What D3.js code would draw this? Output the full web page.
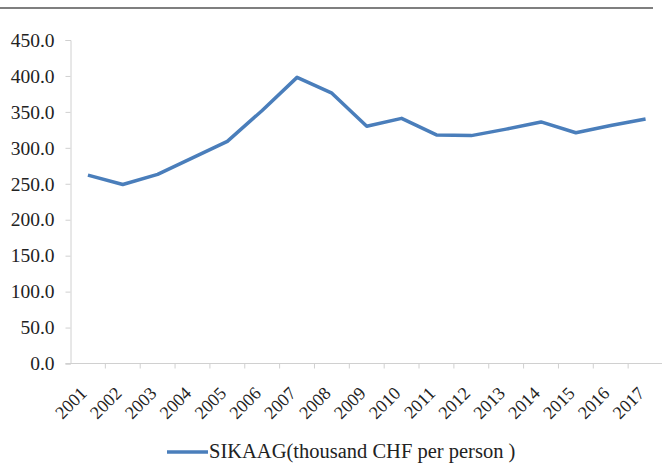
<!DOCTYPE html>
<html>
<head>
<meta charset="utf-8">
<script src="https://cdn.jsdelivr.net/npm/d3@7"></script>
<style>
  body { margin: 0; background: #fff; }
  svg { display: block; }
  svg text { font-family: "Liberation Serif", "Times New Roman", "DejaVu Serif", serif; fill: #222; }
</style>
</head>
<body>
<div id="chart"></div>
<script>
// data
const years = ['2001','2002','2003','2004','2005','2006','2007','2008','2009',
               '2010','2011','2012','2013','2014','2015','2016','2017']
const sikaag = [262, 249, 263, 286, 309, 352, 398, 376, 330,
                341, 318, 317, 326, 336, 321, 331, 340]
const yTicks = [0, 50, 100, 150, 200, 250, 300, 350, 400, 450]
const seriesName = 'SIKAAG(thousand CHF per person )'

const svg_width = 662
const svg_height = 465
const plot_left = 70.5
const plot_right = 663
const plot_top = 40
const plot_bottom = 363.5

const svg = d3.select('#chart')
    .append('svg')
    .attr('width', svg_width)
    .attr('height', svg_height)

// grey rule along the top
svg.append('line')
    .attr('x1', 0).attr('x2', 653)
    .attr('y1', 8).attr('y2', 8)
    .attr('stroke', '#7f7f7f')
    .attr('stroke-width', 2)

const x = d3.scaleBand()
    .domain(years)
    .range([plot_left, plot_right])

const y = d3.scaleLinear()
    .domain([0, 450])
    .range([plot_bottom, plot_top])

// y axis
const yAxis = svg.append('g')
    .attr('transform', `translate(${plot_left},0)`)
    .call(d3.axisLeft(y).tickValues(yTicks).tickFormat(d3.format('.1f')).tickSizeOuter(0).tickSize(5).tickPadding(11))
yAxis.attr('font-family', null)
yAxis.select('.domain').attr('stroke', '#d0d0d0')
yAxis.selectAll('.tick line').attr('stroke', '#d0d0d0')
yAxis.selectAll('.tick text')
    .attr('fill', null)
    .style('font-size', '19.5px')

// x axis, ticks sit between the categories
const xAxis = svg.append('g')
    .attr('transform', `translate(0,${plot_bottom})`)
xAxis.append('line')
    .attr('x1', plot_left - 5).attr('x2', plot_right)
    .attr('stroke', '#d0d0d0')
xAxis.selectAll('line.tk')
    .data(years)
    .join('line')
    .attr('class', 'tk')
    .attr('x1', d => x(d) + x.bandwidth())
    .attr('x2', d => x(d) + x.bandwidth())
    .attr('y1', 0).attr('y2', 5)
    .attr('stroke', '#d0d0d0')
xAxis.selectAll('text')
    .data(years)
    .join('text')
    .text(d => d)
    .attr('transform', d => `translate(${x(d) + x.bandwidth() / 2},${31}) rotate(-45)`)
    .attr('text-anchor', 'end')
    .style('font-size', '18px')

// the series
const line = d3.line()
    .x((d, i) => x(years[i]) + x.bandwidth() / 2)
    .y(d => y(d))

svg.append('path')
    .datum(sikaag)
    .attr('d', line)
    .attr('fill', 'none')
    .attr('stroke', '#4a7ebb')
    .attr('stroke-width', 3.5)
    .attr('stroke-linejoin', 'round')

// legend
const legend = svg.append('g').attr('transform', 'translate(167,452)')
legend.append('line')
    .attr('x1', 0).attr('x2', 41)
    .attr('stroke', '#4a7ebb')
    .attr('stroke-width', 3.5)
legend.append('text')
    .attr('x', 42)
    .attr('y', 6)
    .text(seriesName)
    .style('font-size', '20.5px')
</script>
</body>
</html>
